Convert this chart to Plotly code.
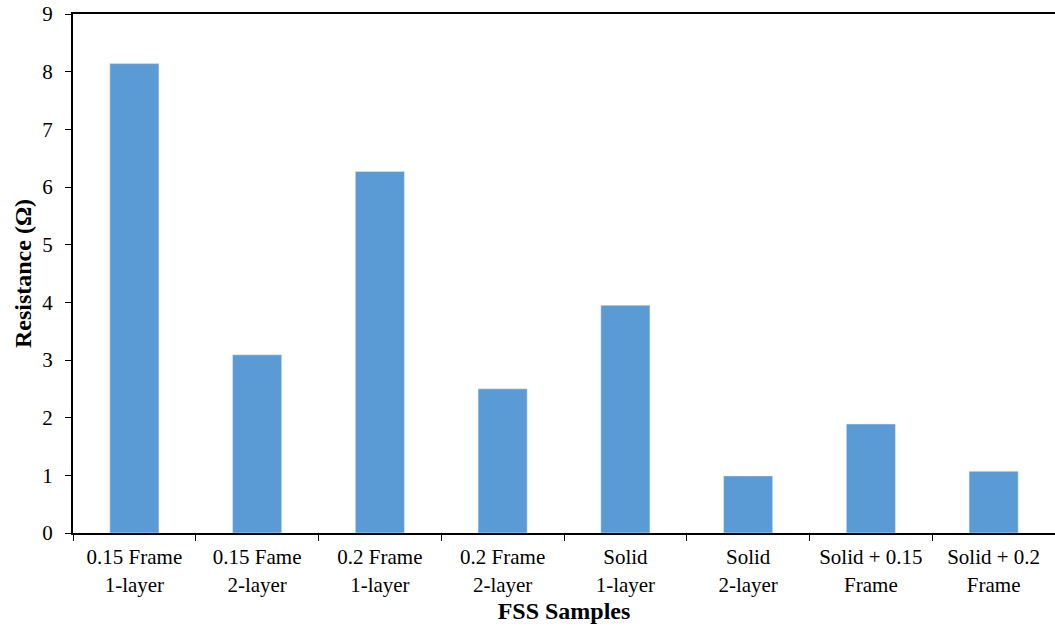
import plotly.graph_objects as go

categories = ["0.15 Frame<br>1-layer", "0.15 Fame<br>2-layer", "0.2 Frame<br>1-layer", "0.2 Frame<br>2-layer",
              "Solid<br>1-layer", "Solid<br>2-layer", "Solid + 0.15<br>Frame", "Solid + 0.2<br>Frame"]
resistance = [8.14, 3.09, 6.27, 2.50, 3.95, 0.99, 1.89, 1.07]

fig = go.Figure(go.Bar(x=categories, y=resistance, marker=dict(color="#5B9BD5"), width=0.4))

font = "Liberation Serif"
fig.update_layout(
    width=1055, height=628,
    margin=dict(l=73, r=0, t=14, b=95),
    plot_bgcolor="white", paper_bgcolor="white",
    font=dict(family=font, size=21, color="black"),
    showlegend=False,
)
fig.update_xaxes(
    automargin=False,
    showline=True, linecolor="black", linewidth=2, mirror=True,
    ticks="outside", tickson="boundaries", ticklen=6, tickcolor="black", tickwidth=1,
    tickfont=dict(size=21), ticklabelstandoff=4,
    title=dict(text="<b>FSS Samples</b>", font=dict(size=24), standoff=7),
    showgrid=False,
)
fig.update_yaxes(
    automargin=False,
    range=[0, 9], dtick=1, showline=True, linecolor="black", linewidth=2,
    ticks="outside", ticklen=6, tickcolor="black", tickwidth=1,
    tickfont=dict(size=21), ticklabelstandoff=8, ticklabeloverflow="allow",
    title=dict(text="<b>Resistance (Ω)</b>", font=dict(size=24), standoff=4),
    showgrid=False, zeroline=False,
)
fig.write_html("out.html", config={"displayModeBar": False},
               post_script="document.body.style.margin='0';")
